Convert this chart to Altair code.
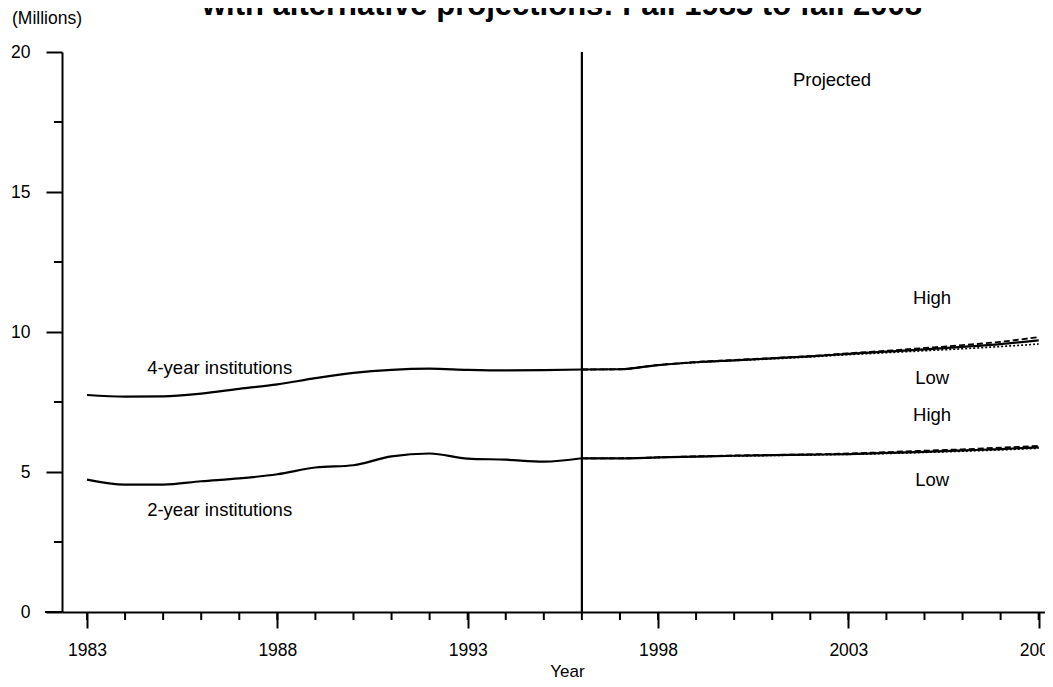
import altair as alt
import pandas as pd

# ---------------- data (millions) ----------------
years_actual = list(range(1983, 1997))
four_year_actual = [7.75, 7.69, 7.70, 7.80, 7.97, 8.13, 8.35, 8.54, 8.65, 8.69, 8.65, 8.63, 8.64, 8.66]
two_year_actual = [4.73, 4.55, 4.55, 4.67, 4.77, 4.92, 5.16, 5.24, 5.56, 5.66, 5.48, 5.44, 5.37, 5.49]

years_proj = list(range(1996, 2009))
four_year_middle = [8.66, 8.67, 8.82, 8.92, 8.99, 9.06, 9.13, 9.22, 9.30, 9.38, 9.47, 9.57, 9.70]
four_year_high = [8.66, 8.67, 8.82, 8.93, 9.00, 9.07, 9.14, 9.24, 9.33, 9.43, 9.53, 9.65, 9.82]
four_year_low = [8.66, 8.67, 8.82, 8.91, 8.98, 9.04, 9.11, 9.19, 9.26, 9.33, 9.40, 9.48, 9.57]
two_year_middle = [5.49, 5.49, 5.52, 5.55, 5.58, 5.60, 5.62, 5.64, 5.68, 5.72, 5.77, 5.82, 5.88]
two_year_high = [5.49, 5.49, 5.52, 5.56, 5.59, 5.61, 5.63, 5.66, 5.71, 5.76, 5.81, 5.87, 5.93]
two_year_low = [5.49, 5.49, 5.52, 5.55, 5.57, 5.59, 5.61, 5.63, 5.66, 5.70, 5.74, 5.79, 5.85]

projection_start = [1996]
major_years = [1983, 1988, 1993, 1998, 2003, 2008]
minor_years = list(range(1983, 2009))
major_values = [0, 5, 10, 15, 20]
minor_values = [2.5, 7.5, 12.5, 17.5]

annot_text = ["Projected", "High", "Low", "High", "Low"]
annot_year = [2002.57, 2005.2, 2005.2, 2005.2, 2005.2]
annot_value = [19.0, 11.2, 8.35, 7.03, 4.70]

inst_text = ["4-year institutions", "2-year institutions"]
inst_year = [1984.58, 1984.58]
inst_value = [8.70, 3.63]

# ---------------- tables ----------------
rows = []
def add(series, style, xs_, vs):
    for x, v in zip(xs_, vs):
        rows.append({"series": series, "style": style, "year": x, "value": v})

add("4 actual", "solid", years_actual, four_year_actual)
add("2 actual", "solid", years_actual, two_year_actual)
add("4 middle", "solid", years_proj, four_year_middle)
add("2 middle", "solid", years_proj, two_year_middle)
add("4 high", "dash", years_proj, four_year_high)
add("2 high", "dash", years_proj, two_year_high)
add("4 low", "dot", years_proj, four_year_low)
add("2 low", "dot", years_proj, two_year_low)
df = pd.DataFrame(rows)

FONT = "Liberation Sans"
W, H = 983, 560
xs = alt.Scale(domain=[1982.343, 2008.166], nice=False, zero=False)
ys = alt.Scale(domain=[0, 20], nice=False, zero=False)

XAX = alt.Axis(values=major_years, format="d", tickSize=16, tickWidth=2,
               tickColor="black", domainColor="black", domainWidth=2,
               labelFont=FONT, labelFontSize=17.5, labelColor="black",
               labelPadding=13, labelFlush=False, grid=False,
               title="Year", titleFont=FONT, titleFontSize=17,
               titleFontWeight="normal", titleColor="black",
               titleY=59, titleBaseline="middle", titleX=505)
YAX = alt.Axis(values=major_values, format="d", tickSize=16, tickWidth=2,
               tickColor="black", domainColor="black", domainWidth=2,
               labelFont=FONT, labelFontSize=17.5, labelColor="black",
               labelPadding=16, labelFlush=False, grid=False, title=None)


def X(field):
    return alt.X(field, scale=xs, axis=XAX, title="Year")


def Y(field):
    return alt.Y(field, scale=ys, axis=YAX, title=None)


def line_layer(style, width, dash=None):
    kw = dict(color="black", strokeWidth=width, interpolate="monotone")
    if dash is not None:
        kw["strokeDash"] = dash
    return alt.Chart(df[df["style"] == style]).mark_line(**kw).encode(
        x=X("year:Q"), y=Y("value:Q"), detail="series:N")

solid = line_layer("solid", 2.2)
dashed = line_layer("dash", 1.8, dash=[6, 3])
dotted = line_layer("dot", 1.6, dash=[2, 2])

vline = alt.Chart(pd.DataFrame({"year": projection_start})).mark_rule(
    color="black", strokeWidth=2.2).encode(
    x=X("year:Q"), y=alt.value(0), y2=alt.value(H))

xminor = alt.Chart(pd.DataFrame({"year": minor_years})).mark_rule(
    color="black", strokeWidth=2).encode(
    x=X("year:Q"), y=alt.value(H), y2=alt.value(H + 8))

yminor = alt.Chart(pd.DataFrame({"v": minor_values})).mark_rule(
    color="black", strokeWidth=2).encode(
    y=Y("v:Q"), x=alt.value(-8), x2=alt.value(0))

xext = alt.Chart(pd.DataFrame({"v": [0]})).mark_rule(
    color="black", strokeWidth=2).encode(
    y=Y("v:Q"), x=alt.value(-17), x2=alt.value(0))

annots = alt.Chart(pd.DataFrame({"t": annot_text, "year": annot_year, "value": annot_value})).mark_text(
    font=FONT, fontSize=18.5, color="black", align="center", baseline="middle").encode(
    x=X("year:Q"), y=Y("value:Q"), text="t:N")

inst = alt.Chart(pd.DataFrame({"t": inst_text, "year": inst_year, "value": inst_value})).mark_text(
    font=FONT, fontSize=18.5, color="black", align="left", baseline="middle").encode(
    x=X("year:Q"), y=Y("value:Q"), text="t:N")

millions = alt.Chart(pd.DataFrame({"t": ["(Millions)"]})).mark_text(
    font=FONT, fontSize=17.5, color="black", align="left", baseline="middle").encode(
    x=alt.value(-50), y=alt.value(-33), text="t:N")

title = alt.Chart(pd.DataFrame({"t": ["with alternative projections: Fall 1983 to fall 2008"]})).mark_text(
    font=FONT, fontSize=31, fontWeight="bold", color="black", align="center",
    baseline="alphabetic").encode(
    x=alt.value(500), y=alt.value(-37), text="t:N")

chart = alt.layer(
    solid, dashed, dotted, vline, xminor, yminor, xext, annots, inst, millions, title
).properties(
    width=W, height=H,
    background="white",
    autosize=alt.AutoSizeParams(type="none"),
    padding={"left": 54, "top": 44, "right": 0, "bottom": 67},
).configure_view(strokeWidth=0, stroke="transparent")

chart.save("out.html", embed_options={"renderer": "svg", "actions": False})
